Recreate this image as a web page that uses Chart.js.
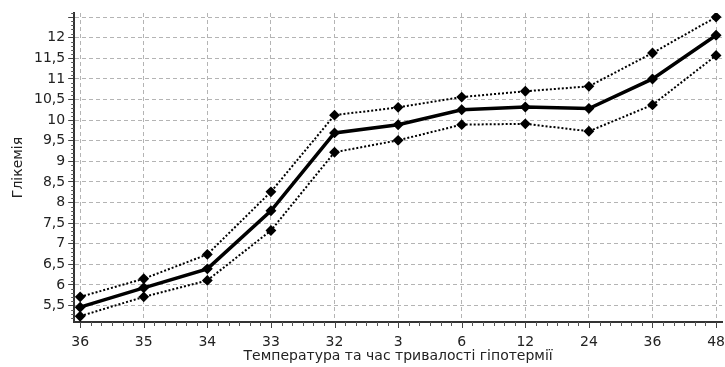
<!DOCTYPE html>
<html>
<head>
<meta charset="utf-8">
<script src="https://cdn.jsdelivr.net/npm/chart.js@4/dist/chart.umd.min.js"></script>
<style>
    html, body { margin: 0; padding: 0; background: #fff; }
    #wrap { width: 725px; height: 367px; }
</style>
</head>
<body>
<div id="wrap"><canvas id="glucoseChart"></canvas></div>
<script>
// Temperature (°C) during cooling, then hours of hypothermia
const categories = ['36', '35', '34', '33', '32', '3', '6', '12', '24', '36', '48'];

const meanValues  = [5.46, 5.93, 6.39, 7.80, 9.69, 9.89, 10.25, 10.32, 10.28, 11.00, 12.06];
const upperValues = [5.71, 6.15, 6.74, 8.26, 10.12, 10.31, 10.56, 10.70, 10.82, 11.63, 12.50];
const lowerValues = [5.24, 5.71, 6.11, 7.32, 9.22, 9.51, 9.89, 9.91, 9.73, 10.37, 11.57];

const yTicks = [5.5, 6, 6.5, 7, 7.5, 8, 8.5, 9, 9.5, 10, 10.5, 11, 11.5, 12, 12.5];

function toPoints(values) {
    return values.map((v, i) => ({ x: i, y: v }));
}

// x tick marks (major + minor) and minor y ticks
const axisTicks = {
    id: 'axisTicks',
    afterDraw(chart) {
        const ctx = chart.ctx;
        const xs = chart.scales.x;
        const ys = chart.scales.y;
        ctx.save();
        ctx.lineWidth = 1;
        ctx.strokeStyle = '#444';
        ctx.beginPath();
        categories.forEach((_, i) => {
            const px = Math.round(xs.getPixelForValue(i)) + 0.5;
            ctx.moveTo(px, ys.bottom);
            ctx.lineTo(px, ys.bottom + 6);
        });
        ctx.stroke();
        ctx.strokeStyle = '#555';
        ctx.beginPath();
        for (let i = 0; i < categories.length - 1; i++) {
            for (let k = 1; k < 6; k++) {
                const px = Math.round(xs.getPixelForValue(i + k / 6)) + 0.5;
                ctx.moveTo(px, ys.bottom);
                ctx.lineTo(px, ys.bottom + 4);
            }
        }
        for (let v = 5.2; v < 12.6; v += 0.1) {
            const r = Math.round(v * 10) / 10;
            if (Math.abs(r * 2 - Math.round(r * 2)) < 0.01) continue;
            const py = Math.round(ys.getPixelForValue(r)) + 0.5;
            ctx.moveTo(xs.left - 3, py);
            ctx.lineTo(xs.left, py);
        }
        ctx.stroke();
        ctx.restore();
    }
};

const axisFont = { family: 'DejaVu Sans', size: 14, lineHeight: 1 };

document.addEventListener('DOMContentLoaded', function() {
    const ctx = document.getElementById('glucoseChart').getContext('2d');

    new Chart(ctx, {
        type: 'line',
        data: {
            datasets: [{
                label: 'upper',
                data: toPoints(upperValues),
                borderColor: '#000',
                backgroundColor: '#000',
                borderWidth: 2,
                borderDash: [2, 2],
                pointStyle: 'rectRot',
                pointRadius: 4,
                tension: 0
            }, {
                label: 'mean',
                data: toPoints(meanValues),
                borderColor: '#000',
                backgroundColor: '#000',
                borderWidth: 3.5,
                pointStyle: 'rectRot',
                pointRadius: 3,
                tension: 0
            }, {
                label: 'lower',
                data: toPoints(lowerValues),
                borderColor: '#000',
                backgroundColor: '#000',
                borderWidth: 2,
                borderDash: [2, 2],
                pointStyle: 'rectRot',
                pointRadius: 4,
                tension: 0
            }]
        },
        options: {
            responsive: true,
            maintainAspectRatio: false,
            animation: false,
            layout: {
                autoPadding: false,
                padding: { top: 13, right: 0, left: 0, bottom: 4 }
            },
            plugins: {
                legend: { display: false },
                tooltip: { enabled: false }
            },
            scales: {
                x: {
                    type: 'linear',
                    min: -0.094,
                    max: 10.094,
                    afterBuildTicks: scale => {
                        scale.ticks = categories.map((_, i) => ({ value: i }));
                    },
                    ticks: {
                        autoSkip: false,
                        maxRotation: 0,
                        color: '#222',
                        padding: 0,
                        font: axisFont,
                        callback: (value) => categories[value]
                    },
                    grid: {
                        color: '#b4b4b4',
                        tickLength: 13,
                        tickColor: 'rgba(0,0,0,0)'
                    },
                    border: { color: '#333', width: 2, dash: [4, 3] },
                    title: {
                        display: true,
                        text: 'Температура та час тривалості гіпотермії',
                        color: '#222',
                        padding: { top: 0, bottom: 0 },
                        font: axisFont
                    }
                },
                y: {
                    min: 5.1,
                    max: 12.6,
                    afterBuildTicks: scale => {
                        scale.ticks = yTicks.map(v => ({ value: v }));
                    },
                    ticks: {
                        color: '#222',
                        padding: 3,
                        font: axisFont,
                        callback: (value) => value === 12.5 ? '' : String(value).replace('.', ',')
                    },
                    grid: {
                        color: '#b4b4b4',
                        tickLength: 6,
                        tickColor: '#444',
                        tickBorderDash: []
                    },
                    border: { color: '#333', width: 2, dash: [4, 3] },
                    title: {
                        display: true,
                        text: 'Глікемія',
                        color: '#222',
                        padding: { top: 11, bottom: 6 },
                        font: axisFont
                    }
                }
            }
        },
        plugins: [axisTicks]
    });
});
</script>
</body>
</html>
